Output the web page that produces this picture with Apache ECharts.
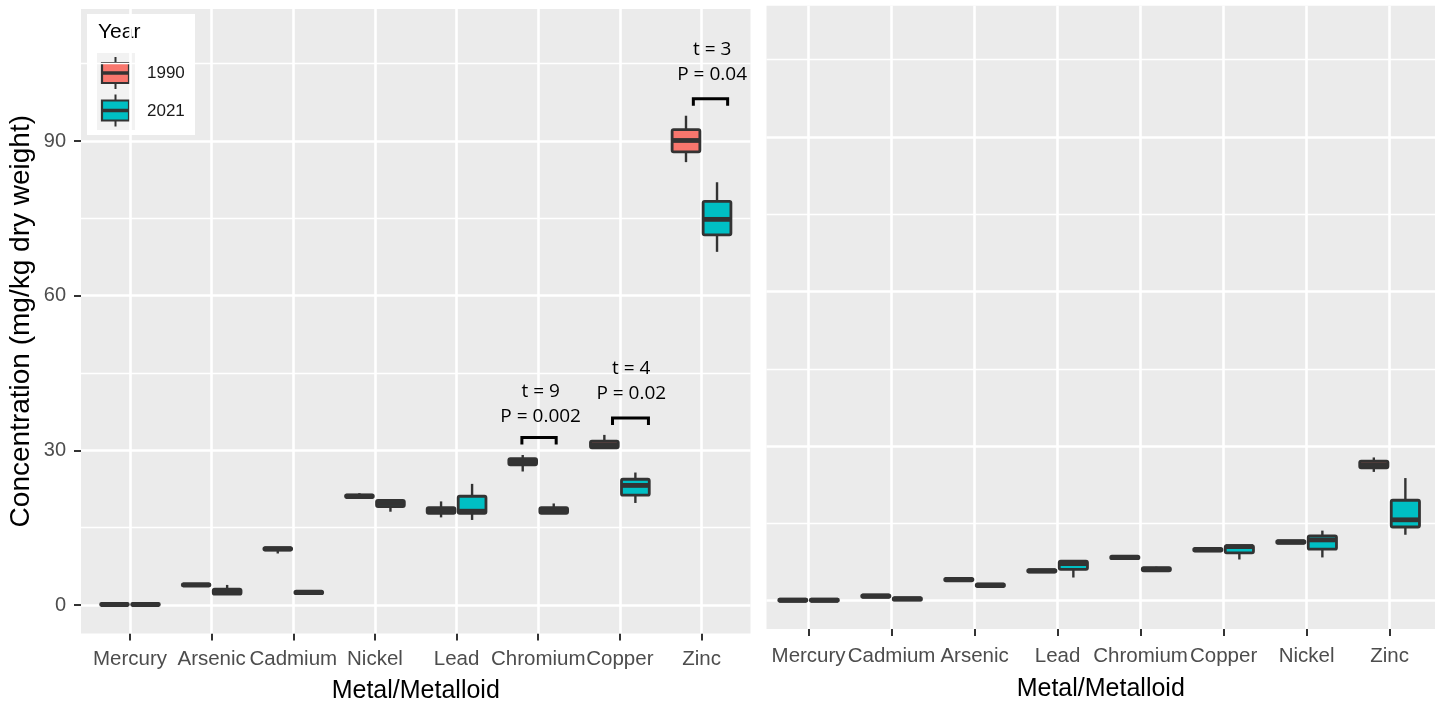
<!DOCTYPE html>
<html><head><meta charset="utf-8">
<script src="https://cdn.jsdelivr.net/npm/echarts@6/dist/echarts.min.js"></script>
<style>html,body{margin:0;padding:0;background:#fff}#chart{width:1435px;height:702px}</style>
</head><body><div id="chart"></div>
<script>
// ---------- DATA ----------
const metalsLeft  = ['Mercury','Arsenic','Cadmium','Nickel','Lead','Chromium','Copper','Zinc'];
const metalsRight = ['Mercury','Cadmium','Arsenic','Lead','Chromium','Copper','Nickel','Zinc'];
const years = ['1990','2021'];
// box stats: [min, q1, median, q3, max]  (mg/kg dry weight)
const left1990 = [
  [0.0, -0.1, 0.1, 0.3, 0.3],
  [3.7, 3.7, 3.9, 4.1, 4.1],
  [10.0, 10.65, 10.9, 11.15, 11.15],
  [20.85, 20.85, 21.1, 21.35, 21.7],
  [17.0, 17.8, 18.3, 18.9, 20.1],
  [25.9, 27.2, 27.8, 28.4, 29.1],
  [30.5, 30.5, 31.1, 31.8, 33.0],
  [85.9, 87.9, 90.1, 92.2, 94.9]
];
const left2021 = [
  [0.0, -0.1, 0.1, 0.3, 0.3],
  [2.1, 2.1, 2.6, 3.1, 3.9],
  [2.2, 2.2, 2.45, 2.7, 2.7],
  [18.1, 19.1, 19.7, 20.3, 20.3],
  [16.5, 17.8, 18.2, 21.1, 23.5],
  [17.8, 17.8, 18.3, 18.9, 19.7],
  [19.8, 21.3, 23.2, 24.4, 25.7],
  [68.5, 71.8, 74.8, 78.3, 82.0]
];
const right1990 = [
  [0.0, -0.1, 0.1, 0.3, 0.3],
  [0.65, 0.65, 0.9, 1.15, 1.15],
  [3.85, 3.85, 4.1, 4.35, 4.35],
  [5.55, 5.55, 5.8, 6.05, 6.05],
  [8.15, 8.15, 8.4, 8.65, 8.65],
  [9.65, 9.65, 9.9, 10.15, 10.15],
  [11.15, 11.15, 11.4, 11.65, 11.65],
  [25.0, 25.8, 26.4, 27.1, 27.8]
];
const right2021 = [
  [0.0, -0.1, 0.1, 0.3, 0.3],
  [0.1, 0.1, 0.35, 0.6, 0.6],
  [2.75, 2.75, 3.0, 3.25, 3.25],
  [4.5, 6.1, 7.2, 7.7, 7.7],
  [5.6, 5.8, 6.1, 6.4, 6.6],
  [8.0, 9.3, 10.5, 10.7, 10.7],
  [8.4, 10.0, 11.8, 12.6, 13.6],
  [12.8, 14.3, 15.7, 19.5, 23.8]
];
const yTickValues  = [0, 30, 60, 90];
const yMinorValues = [15, 45, 75, 105];
// t-test annotations (left panel)
const annotMetal    = ['Chromium', 'Copper', 'Zinc'];
const annotT        = ['t = 9', 't = 4', 't = 3'];
const annotP        = ['P = 0.002', 'P = 0.02', 'P = 0.04'];
const annotBracketY = [32.5, 36.3, 98.2];
const annotTY       = [41.4, 45.8, 107.7];
const annotPY       = [36.5, 41.1, 102.9];
const annotBracketX = [[-0.2, 0.22], [-0.09, 0.35], [-0.1, 0.32]];
const annotTextX    = [0.03, 0.14, 0.13];

// ---------- STYLE ----------
const COL = { '1990': '#F8766D', '2021': '#00BFC4' };
const DARK = '#333333';
const FONT = '"Liberation Sans", Arial, sans-serif';
const BOX_W = 0.34, DODGE = 0.19;
const HIDDEN_LINE = { show: true, onZero: false, lineStyle: { color: 'rgba(0,0,0,0)', width: 0 } };

function boxSeries(name, data, gridIdx, offset) {
  return {
    type: 'custom', name: name, xAxisIndex: gridIdx, yAxisIndex: gridIdx, z: 3,
    data: data.map((d, i) => [i].concat(d)),
    encode: { x: 0, y: [1, 2, 3, 4, 5] },
    renderItem: function (params, api) {
      const xc = api.value(0) + offset;
      const h = BOX_W / 2;
      const pMax = api.coord([xc, api.value(5)]);
      const pQ3 = api.coord([xc, api.value(4)]);
      const pQ1 = api.coord([xc, api.value(2)]);
      const pMin = api.coord([xc, api.value(1)]);
      const l = api.coord([xc - h, api.value(3)]);
      const r = api.coord([xc + h, api.value(3)]);
      const ln = { stroke: DARK, lineWidth: 2.4 };
      return {
        type: 'group', children: [
          { type: 'line', shape: { x1: pMax[0], y1: pMax[1], x2: pQ3[0], y2: pQ3[1] }, style: ln },
          { type: 'line', shape: { x1: pQ1[0], y1: pQ1[1], x2: pMin[0], y2: pMin[1] }, style: ln },
          { type: 'rect', shape: { x: l[0], y: pQ3[1], width: r[0] - l[0], height: Math.max(pQ1[1] - pQ3[1], 0.5), r: 1.5 },
            style: { fill: COL[name], stroke: DARK, lineWidth: 2.8, lineJoin: 'round' } },
          { type: 'line', shape: { x1: l[0] + 0.5, y1: l[1], x2: r[0] - 0.5, y2: r[1] }, style: { stroke: DARK, lineWidth: 4.8 } }
        ]
      };
    }
  };
}

function gridMarkLines(n) {
  const data = [];
  yTickValues.forEach(v => data.push({ yAxis: v, lineStyle: { width: 2.6 } }));
  yMinorValues.forEach(v => data.push({ yAxis: v, lineStyle: { width: 1.3 } }));
  for (let i = 0; i < n; i++) data.push({ xAxis: i, lineStyle: { width: 2.6 } });
  return { silent: true, symbol: 'none', z: 1, label: { show: false },
           lineStyle: { color: '#FFFFFF', type: 'solid' }, animation: false, data: data };
}

function xAxisCfg(gridIdx, names, min, max, labelMargin, nameGap, nameSize) {
  const idx = names.map((_, i) => i);
  return {
    type: 'value', gridIndex: gridIdx, min: min, max: max,
    axisLine: HIDDEN_LINE, splitLine: { show: false },
    axisTick: { show: true, customValues: idx, length: 7, lineStyle: { color: DARK, width: 2 } },
    axisLabel: { customValues: idx, formatter: v => names[Math.round(v)], margin: labelMargin,
                 color: '#4D4D4D', fontSize: 20.5, fontFamily: FONT },
    name: 'Metal/Metalloid', nameLocation: 'middle', nameGap: nameGap,
    nameTextStyle: { color: '#000', fontSize: nameSize, fontFamily: FONT }
  };
}

const s1990L = boxSeries('1990', left1990, 0, -DODGE);
s1990L.markLine = gridMarkLines(metalsLeft.length);
const s1990R = boxSeries('1990', right1990, 1, -DODGE);
s1990R.markLine = gridMarkLines(metalsRight.length);

const annotSeries = {
  type: 'custom', name: 'annotations', xAxisIndex: 0, yAxisIndex: 0, z: 4, silent: true,
  data: annotMetal.map((m, i) => [metalsLeft.indexOf(m), annotBracketY[i]]),
  renderItem: function (params, api) {
    const i = params.dataIndex;
    const c = api.value(0);
    const a = api.coord([c + annotBracketX[i][0], annotBracketY[i]]);
    const b = api.coord([c + annotBracketX[i][1], annotBracketY[i]]);
    const drop = 7;
    const t = api.coord([c + annotTextX[i], annotTY[i]]);
    const p = api.coord([c + annotTextX[i], annotPY[i]]);
    const ts = { fill: '#000', fontSize: 19, fontFamily: '"Open Sans", sans-serif',
                 textAlign: 'center', textVerticalAlign: 'middle', align: 'center', verticalAlign: 'middle' };
    return { type: 'group', children: [
      { type: 'polyline', shape: { points: [[a[0], a[1] + drop], [a[0], a[1]], [b[0], b[1]], [b[0], b[1] + drop]] },
        style: { stroke: '#000', lineWidth: 3, fill: null } },
      { type: 'text', x: t[0], y: t[1], style: Object.assign({ text: annotT[i] }, ts) },
      { type: 'text', x: p[0], y: p[1], style: Object.assign({ text: annotP[i] }, ts) }
    ] };
  }
};

// legend (drawn as graphic, ggplot style)
function legendKey(y0, color) {
  return [
    { type: 'line', shape: { x1: 115.5, y1: y0 - 16, x2: 115.5, y2: y0 + 16 }, style: { stroke: DARK, lineWidth: 2 } },
    { type: 'rect', shape: { x: 102, y: y0 - 10, width: 27, height: 20 }, style: { fill: color, stroke: DARK, lineWidth: 2.2 } },
    { type: 'line', shape: { x1: 102, y1: y0, x2: 129, y2: y0 }, style: { stroke: DARK, lineWidth: 3.5 } }
  ];
}

const chart = echarts.init(document.getElementById('chart'), null, { renderer: 'canvas' });
chart.setOption({
  animation: false,
  backgroundColor: '#FFFFFF',
  grid: [
    { left: 81, top: 9, width: 669.5, height: 624.4, show: true, backgroundColor: '#EBEBEB', borderWidth: 0,
      containLabel: false, outerBoundsMode: 'none' },
    { left: 766.5, top: 5.7, width: 668.5, height: 623.3, show: true, backgroundColor: '#EBEBEB', borderWidth: 0,
      containLabel: false, outerBoundsMode: 'none' }
  ],
  xAxis: [
    xAxisCfg(0, metalsLeft, -0.6, 7.6, 15, 45, 25),
    xAxisCfg(1, metalsRight, -0.507, 7.547, 17, 48, 25)
  ],
  yAxis: [
    { type: 'value', gridIndex: 0, min: -5.5, max: 115.6,
      axisLine: HIDDEN_LINE, splitLine: { show: false },
      axisTick: { show: true, customValues: yTickValues, length: 7, lineStyle: { color: DARK, width: 2 } },
      axisLabel: { customValues: yTickValues, margin: 15, color: '#4D4D4D', fontSize: 20, fontFamily: FONT },
      name: 'Concentration (mg/kg dry weight)', nameLocation: 'middle', nameRotate: 90, nameGap: 46,
      nameTextStyle: { color: '#000', fontSize: 28, fontFamily: FONT } },
    { type: 'value', gridIndex: 1, min: -5.49, max: 115.47,
      axisLine: { show: false, onZero: false }, splitLine: { show: false },
      axisTick: { show: false }, axisLabel: { show: false } }
  ],
  series: [
    s1990L,
    boxSeries('2021', left2021, 0, DODGE),
    s1990R,
    boxSeries('2021', right2021, 1, DODGE),
    annotSeries
  ],
  graphic: [
    { type: 'group', zlevel: 2, z: 100, children: [
      { type: 'rect', shape: { x: 87, y: 14, width: 108, height: 121 }, style: { fill: '#FFFFFF' } },
      { type: 'text', x: 98, y: 32, style: { text: 'Year', fill: '#000', fontSize: 21, fontFamily: FONT, textVerticalAlign: 'middle', verticalAlign: 'middle' } },
      { type: 'rect', shape: { x: 97, y: 53, width: 38, height: 77 }, style: { fill: '#F2F2F2' } }
    ].concat(legendKey(73, COL['1990']), legendKey(110.5, COL['2021']), [
      { type: 'text', x: 147, y: 73, style: { text: years[0], fill: '#1A1A1A', fontSize: 17, fontFamily: FONT, textVerticalAlign: 'middle', verticalAlign: 'middle' } },
      { type: 'text', x: 147, y: 111, style: { text: years[1], fill: '#1A1A1A', fontSize: 17, fontFamily: FONT, textVerticalAlign: 'middle', verticalAlign: 'middle' } }
    ]) }
  ]
});
</script>
</body></html>
